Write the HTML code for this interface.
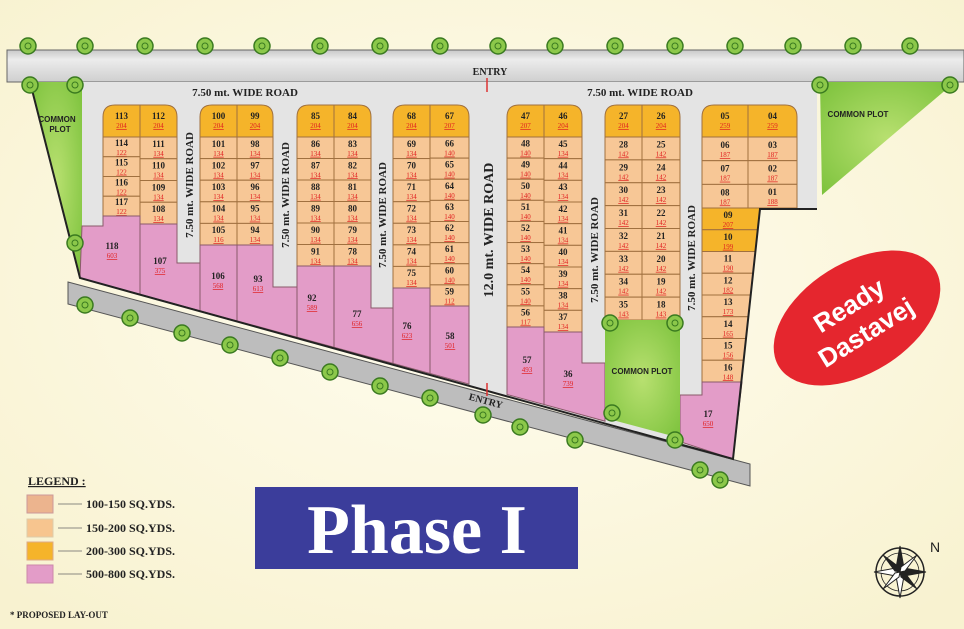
<!DOCTYPE html>
<html><head><meta charset="utf-8"><style>
html,body{margin:0;padding:0;width:964px;height:629px;overflow:hidden;background:#fbf7dc}
svg{display:block}
text{font-family:"Liberation Serif",serif}
</style></head><body>
<svg id="s" width="964" height="629" viewBox="0 0 964 629" xmlns="http://www.w3.org/2000/svg">
<defs>
<radialGradient id="bg" cx="0.5" cy="0.45" r="0.7"><stop offset="0" stop-color="#fffdf0"/><stop offset="1" stop-color="#f8f2d0"/></radialGradient>
<radialGradient id="gr" cx="0.5" cy="0.5" r="0.7"><stop offset="0" stop-color="#b8e070"/><stop offset="1" stop-color="#7cc23c"/></radialGradient>
<linearGradient id="rd" x1="0" y1="0" x2="0" y2="1"><stop offset="0" stop-color="#c8c8c8"/><stop offset="0.3" stop-color="#ececec"/><stop offset="1" stop-color="#cfcfcf"/></linearGradient>
</defs>
<rect width="964" height="629" fill="url(#bg)"/>
<!-- top road -->
<rect x="7" y="50" width="957" height="32" fill="url(#rd)" stroke="#666" stroke-width="1"/>
<!-- lower entry road -->
<polygon points="68,282 750,464 750,486 68,304" fill="#bdbdbd" stroke="#555" stroke-width="1"/>
<!-- site grey -->
<polygon points="30,82 817,82 817,209 760,209 733,459 80,278" fill="#e4e4e4"/>
<polygon points="30,82 82,82 82,226 80,278" fill="url(#gr)"/>
<polygon points="820,82 955,82 822,195" fill="url(#gr)"/>
<g id="plots"></g>
<polygon points="605,320 680,320 680,438 605,418" fill="url(#gr)"/>
<polyline points="30,82 80,278 733,459 760,209 817,209" fill="none" stroke="#222" stroke-width="2"/>
<g id="trees"></g>
<g font-family="Liberation Sans, sans-serif" font-weight="bold" font-size="8" fill="#222" text-anchor="middle">
<text x="57" y="122" style="font-family:'Liberation Sans',sans-serif">COMMON</text>
<text x="60" y="132" style="font-family:'Liberation Sans',sans-serif">PLOT</text>
<text x="858" y="117" style="font-family:'Liberation Sans',sans-serif">COMMON PLOT</text>
<text x="642" y="374" style="font-family:'Liberation Sans',sans-serif">COMMON PLOT</text>
</g>
<g font-weight="bold" fill="#222" text-anchor="middle" font-size="11">
<text x="245" y="96">7.50 mt. WIDE ROAD</text>
<text x="640" y="96">7.50 mt. WIDE ROAD</text>
<text x="490" y="75" font-size="10">ENTRY</text>
<text transform="translate(485,404) rotate(15)" font-size="10">ENTRY</text>
<text transform="translate(193,185) rotate(-90)">7.50 mt. WIDE ROAD</text>
<text transform="translate(289,195) rotate(-90)">7.50 mt. WIDE ROAD</text>
<text transform="translate(386,215) rotate(-90)">7.50 mt. WIDE ROAD</text>
<text transform="translate(598,250) rotate(-90)">7.50 mt. WIDE ROAD</text>
<text transform="translate(695,258) rotate(-90)">7.50 mt. WIDE ROAD</text>
<text transform="translate(493,230) rotate(-90)" font-size="14">12.0 mt. WIDE ROAD</text>
</g>
<line x1="487" y1="78" x2="487" y2="92" stroke="#d33" stroke-width="1.5"/>
<line x1="487" y1="383" x2="487" y2="396" stroke="#d33" stroke-width="1.5"/>
<!-- Ready Dastavej -->
<g transform="translate(857,318) rotate(-32)">
<ellipse cx="0" cy="0" rx="92" ry="55" fill="#e5262e"/>
<text x="0" y="-6" fill="#fff" font-size="26" font-weight="bold" text-anchor="middle" style="font-family:'Liberation Sans',sans-serif">Ready</text>
<text x="0" y="26" fill="#fff" font-size="26" font-weight="bold" text-anchor="middle" style="font-family:'Liberation Sans',sans-serif">Dastavej</text>
</g>
<!-- legend -->
<g font-weight="bold" font-size="12" fill="#222">
<text x="28" y="485" text-decoration="underline">LEGEND :</text>
<rect x="27" y="495" width="26" height="18" fill="#ecb48e" stroke="#c99"/>
<rect x="27" y="519" width="26" height="18" fill="#f7c58f" stroke="#dca"/>
<rect x="27" y="542" width="26" height="18" fill="#f5b42a" stroke="#da8"/>
<rect x="27" y="565" width="26" height="18" fill="#e39cc8" stroke="#c8a"/>
<g stroke="#666" stroke-width="0.8"><line x1="58" y1="504" x2="82" y2="504"/><line x1="58" y1="528" x2="82" y2="528"/><line x1="58" y1="551" x2="82" y2="551"/><line x1="58" y1="574" x2="82" y2="574"/></g>
<text x="86" y="508">100-150 SQ.YDS.</text>
<text x="86" y="532">150-200 SQ.YDS.</text>
<text x="86" y="555">200-300 SQ.YDS.</text>
<text x="86" y="578">500-800 SQ.YDS.</text>
<text x="10" y="618" font-size="9">* PROPOSED LAY-OUT</text>
</g>
<rect x="255" y="487" width="323" height="82" fill="#3b3d9b"/>
<text x="417" y="553" fill="#fff" font-size="70" font-weight="bold" text-anchor="middle">Phase I</text>
<!-- compass -->
<g transform="translate(900,572)" stroke="#222" fill="none">
<circle r="24" stroke-width="1.5"/><circle r="19" stroke-width="0.8"/>
<polygon points="0,-26 4,-4 0,0 -4,-4" fill="#222"/><polygon points="0,26 4,4 0,0 -4,4" fill="#fff"/>
<polygon points="-26,0 -4,-4 0,0 -4,4" fill="#fff"/><polygon points="26,0 4,-4 0,0 4,4" fill="#222"/>
<polygon points="-17,-17 -1,-5 0,0 -5,-1" fill="#222"/><polygon points="17,17 1,5 0,0 5,1" fill="#222"/>
<polygon points="17,-17 5,-1 0,0 1,-5" fill="#fff"/><polygon points="-17,17 -5,1 0,0 -1,5" fill="#fff"/>
</g>
<text x="930" y="552" font-size="14" fill="#222" style="font-family:'Liberation Sans',sans-serif">N</text>
</svg>
<script>
var NS="http://www.w3.org/2000/svg",P=document.getElementById('plots'),T=document.getElementById('trees');
function el(t,a,par,txt){var e=document.createElementNS(NS,t);for(var k in a)e.setAttribute(k,a[k]);if(txt!=null)e.textContent=txt;(par||P).appendChild(e);return e;}
var Y='#f5b42a',O='#f7c796',K='#e39cc8',S='#a0703f';
function lab(cx,cy,n,s){el('text',{x:cx,y:cy-1,'font-size':9,'font-weight':'bold','text-anchor':'middle',fill:'#222'},P,n);
el('text',{x:cx,y:cy+8,'font-size':7,'text-anchor':'middle',fill:'#e02020','text-decoration':'underline'},P,s);}
function by(x){return 278+0.2727*(x-80);}
function col(x,w,rnd,head,rows,top,hb,bot){
 // header
 var r=12;
 var d=rnd==='L'?'M'+x+','+hb+'V'+(top+r)+'Q'+x+','+top+' '+(x+r)+','+top+'H'+(x+w)+'V'+hb+'Z':
   'M'+x+','+hb+'V'+top+'H'+(x+w-r)+'Q'+(x+w)+','+top+' '+(x+w)+','+(top+r)+'V'+hb+'Z';
 el('path',{d:d,fill:Y,stroke:S,'stroke-width':1});
 lab(x+w/2,top+15,head[0],head[1]);
 var h=(bot-hb)/rows.length;
 rows.forEach(function(rw,i){var y=hb+i*h;var ww=rw[3]||w;
  el('rect',{x:x,y:y,width:ww,height:h,fill:rw[2]||O,stroke:S,'stroke-width':1});
  lab(x+ww/2,y+h/2,rw[0],rw[1]);});
}
function R(a,s,n){return a.map(function(v){return [v,s];});}
var t=105,hb=137;
col(103,37,'L',['113','204'],R(['114','115','116','117'],'122'),t,hb,216);
col(140,37,'R',['112','204'],R(['111','110','109','108'],'134'),t,hb,224);
col(200,37,'L',['100','204'],R(['101','102','103','104'],'134').concat([['105','116']]),t,hb,245);
col(237,36,'R',['99','204'],R(['98','97','96','95','94'],'134'),t,hb,245);
col(297,37,'L',['85','204'],R(['86','87','88','89','90','91'],'134'),t,hb,266);
col(334,37,'R',['84','204'],R(['83','82','81','80','79','78'],'134'),t,hb,266);
col(393,37,'L',['68','204'],R(['69','70','71','72','73','74','75'],'134'),t,hb,288);
col(430,39,'R',['67','207'],R(['66','65','64','63','62','61','60'],'140').concat([['59','112']]),t,hb,306);
col(507,37,'L',['47','207'],R(['48','49','50','51','52','53','54','55'],'140').concat([['56','117']]),t,hb,327);
col(544,38,'R',['46','204'],R(['45','44','43','42','41','40','39','38','37'],'134'),t,hb,332);
col(605,37,'L',['27','204'],R(['28','29','30','31','32','33','34'],'142').concat([['35','143']]),t,hb,320);
col(642,38,'R',['26','204'],R(['25','24','23','22','21','20','19'],'142').concat([['18','143']]),t,hb,320);
col(748,49,'R',['04','259'],[['03','187'],['02','187'],['01','188']],t,hb,208);
// col M
el('path',{d:'M702,137V117Q702,105 714,105H748V137Z',fill:Y,stroke:S});
lab(725,120,'05','259');
[['06','187'],['07','187'],['08','187']].forEach(function(r,i){var y=hb+i*23.7;el('rect',{x:702,y:y,width:46,height:23.7,fill:O,stroke:S});lab(725,y+12,r[0],r[1]);});
var mr=[['09','207',Y],['10','199',Y],['11','190'],['12','182'],['13','173'],['14','165'],['15','156'],['16','148']];
mr.forEach(function(r,i){var y0=208+i*21.75,y1=y0+21.75;function rx(y){return 760-(y-209)*27/250;}
 el('polygon',{points:'702,'+y0+' '+rx(y0)+','+y0+' '+rx(y1)+','+y1+' 702,'+y1,fill:r[2]||O,stroke:S});lab(728,y0+11,r[0],r[1]);});
// pinks
function pk(pts,cx,cy,n,s){el('polygon',{points:pts,fill:K,stroke:'#8a5a6a','stroke-width':1});lab(cx,cy,n,s);}
pk('82,226 103,226 103,216 140,216 140,'+by(140)+' 80,278',112,250,'118','603');
pk('140,224 177,224 177,263 200,263 200,'+by(200)+' 140,'+by(140),160,265,'107','375');
pk('200,245 237,245 237,'+by(237)+' 200,'+by(200),218,280,'106','568');
pk('237,245 273,245 273,287 297,287 297,'+by(297)+' 237,'+by(237),258,283,'93','613');
pk('297,266 334,266 334,'+by(334)+' 297,'+by(297),312,302,'92','589');
pk('334,266 371,266 371,308 393,308 393,'+by(393)+' 334,'+by(334),357,318,'77','656');
pk('393,288 430,288 430,'+by(430)+' 393,'+by(393),407,330,'76','623');
pk('430,306 469,306 469,'+by(469)+' 430,'+by(430),450,340,'58','501');
pk('507,327 544,327 544,'+by(544)+' 507,'+by(507),527,364,'57','493');
pk('544,332 582,332 582,363 605,363 605,'+by(605)+' 544,'+by(544),568,378,'36','739');
pk('680,395 702,395 702,382 742,382 733,459 680,'+by(680),708,418,'17','650');
// trees
function tr(x,y){el('circle',{cx:x,cy:y,r:8,fill:'#8cc84a',stroke:'#3a7a20','stroke-width':1.5},T);el('circle',{cx:x,cy:y,r:3,fill:'none',stroke:'#3a7a20','stroke-width':1},T);}
[28,85,145,205,262,320,380,440,498,555,615,675,735,793,853,910].forEach(function(x){tr(x,46);});
[[30,85],[75,85],[820,85],[950,85],[75,243],[85,305],[130,318],[182,333],[230,345],[280,358],[330,372],[380,386],[430,398],[520,427],[575,440],[610,323],[675,323],[612,413],[675,440],[700,470],[720,480],[483,415]].forEach(function(p){tr(p[0],p[1]);});
</script>
</body></html>
